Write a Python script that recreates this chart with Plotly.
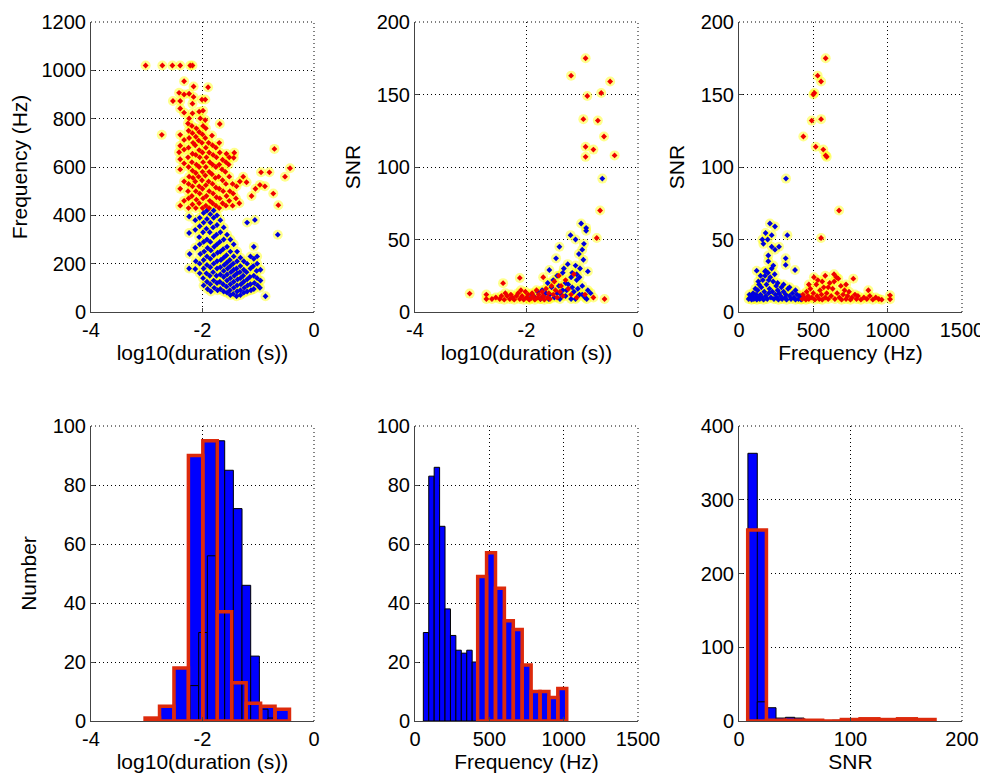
import plotly.graph_objects as go
from plotly.subplots import make_subplots

# ---- histogram data (bin start, bin width, counts) ----
dur_low_start, dur_low_width = -2.224, 0.1555
dur_low_counts = [12, 30, 56, 95, 85, 72, 46, 22, 4, 1]
dur_high_start, dur_high_width = -3.03, 0.259
dur_high_counts = [1, 5, 18, 90, 95, 37, 13, 6, 5, 4]

freq_low_start, freq_low_width = 56, 36.5
freq_low_counts = [30, 83, 86, 66, 38, 29, 24, 23, 24, 20]
freq_high_start, freq_high_width = 421.6, 59.9
freq_high_counts = [49, 57, 45, 34, 31, 19, 10, 10, 8, 11]

snr_low_start, snr_low_width = 8.0, 8.4
snr_low_counts = [363, 26, 18, 4, 5, 4, 2, 0, 0, 1]
snr_high_start, snr_high_width = 7.8, 16.8
snr_high_counts = [259, 1, 1, 1, 0, 2, 3, 2, 3, 2]

# ---- scatter data ----
# panel 1: log10(duration) vs frequency
p1_red = [(-3.02, 1020), (-2.72, 1020), (-2.54, 1020), (-2.40, 1020), (-2.22, 1020), (-2.18, 1020),
          (-2.33, 955), (-2.16, 933), (-1.90, 930), (-2.42, 907), (-2.33, 900), (-2.24, 903), (-2.16, 890),
          (-2.53, 873), (-2.40, 873), (-2.18, 862), (-2.01, 879), (-1.95, 879), (-2.40, 842), (-2.33, 825),
          (-2.18, 822), (-2.06, 829), (-1.99, 833), (-2.24, 801), (-2.04, 801), (-1.95, 794), (-1.69, 778),
          (-2.73, 733), (-2.40, 733), (-2.33, 712), (-2.40, 688), (-2.42, 661), (-2.40, 632), (-2.33, 672),
          (-2.40, 590), (-2.40, 510), (-2.40, 440), (-2.33, 540), (-2.33, 460), (-2.33, 615),
          (-2.25, 430), (-2.25, 470), (-2.26, 500), (-2.25, 530), (-2.24, 560), (-2.25, 600), (-2.26, 640),
          (-2.25, 680), (-2.24, 720), (-2.25, 750), (-2.26, 780),
          (-2.18, 445), (-2.19, 480), (-2.18, 520), (-2.17, 555), (-2.18, 585), (-2.19, 620), (-2.18, 655),
          (-2.17, 700), (-2.18, 740), (-2.19, 770),
          (-2.12, 430), (-2.11, 465), (-2.12, 500), (-2.13, 540), (-2.12, 575), (-2.11, 610), (-2.12, 650),
          (-2.13, 690), (-2.12, 725), (-2.11, 760),
          (-2.06, 450), (-2.05, 490), (-2.06, 520), (-2.07, 560), (-2.06, 600), (-2.05, 640), (-2.06, 670),
          (-2.07, 710), (-2.06, 745),
          (-2.00, 430), (-1.99, 470), (-2.00, 510), (-2.01, 545), (-2.00, 580), (-1.99, 620), (-2.00, 660),
          (-2.01, 700), (-2.00, 735), (-1.99, 770),
          (-1.94, 440), (-1.93, 480), (-1.94, 525), (-1.95, 565), (-1.94, 600), (-1.93, 640), (-1.94, 680),
          (-1.95, 720), (-1.94, 760),
          (-1.88, 430), (-1.87, 460), (-1.88, 500), (-1.89, 540), (-1.88, 580), (-1.87, 620), (-1.88, 660),
          (-1.89, 700),
          (-1.82, 450), (-1.81, 490), (-1.82, 530), (-1.83, 570), (-1.82, 610), (-1.81, 650), (-1.82, 690),
          (-1.83, 730),
          (-1.76, 440), (-1.75, 475), (-1.76, 515), (-1.77, 555), (-1.76, 600), (-1.75, 640), (-1.76, 680),
          (-1.70, 430), (-1.69, 470), (-1.70, 510), (-1.71, 560), (-1.70, 610), (-1.69, 660), (-1.70, 700),
          (-1.64, 450), (-1.63, 500), (-1.64, 545), (-1.65, 590), (-1.64, 630),
          (-1.58, 440), (-1.57, 480), (-1.58, 530), (-1.59, 580), (-1.58, 620), (-1.57, 655),
          (-1.52, 460), (-1.51, 500), (-1.52, 560), (-1.53, 610), (-1.52, 640),
          (-1.46, 440), (-1.45, 490), (-1.46, 530), (-1.44, 638), (-1.43, 659),
          (-1.40, 470), (-1.39, 520), (-1.34, 450), (-1.33, 540), (-1.27, 560),
          (-1.21, 537), (-1.12, 480), (-1.05, 510), (-0.97, 526), (-0.95, 578), (-0.88, 520), (-0.80, 578),
          (-0.73, 490), (-0.71, 675), (-0.64, 442), (-0.52, 560), (-0.43, 595)]

p1_blue = [(-2.24, 395), (-2.24, 327), (-2.23, 240), (-2.24, 180),
           (-2.13, 380), (-2.13, 340), (-2.13, 266), (-2.12, 210), (-2.13, 178),
           (-2.05, 390), (-2.05, 355), (-2.06, 310), (-2.05, 280), (-2.04, 240), (-2.05, 200), (-2.05, 160),
           (-1.98, 410), (-1.98, 370), (-1.99, 330), (-1.98, 290), (-1.97, 250), (-1.98, 215), (-1.98, 180),
           (-1.99, 140), (-1.98, 110),
           (-1.92, 420), (-1.92, 385), (-1.93, 345), (-1.92, 300), (-1.91, 265), (-1.92, 230), (-1.92, 195),
           (-1.93, 160), (-1.92, 125), (-1.91, 95),
           (-1.86, 405), (-1.86, 370), (-1.87, 330), (-1.86, 290), (-1.85, 255), (-1.86, 220), (-1.86, 185),
           (-1.87, 150), (-1.86, 115), (-1.85, 85),
           (-1.80, 420), (-1.80, 390), (-1.81, 350), (-1.80, 310), (-1.79, 270), (-1.80, 235), (-1.80, 200),
           (-1.81, 165), (-1.80, 130), (-1.79, 100),
           (-1.74, 400), (-1.74, 360), (-1.75, 320), (-1.74, 280), (-1.73, 245), (-1.74, 210), (-1.74, 180),
           (-1.75, 150), (-1.74, 120), (-1.73, 90),
           (-1.68, 380), (-1.68, 330), (-1.69, 290), (-1.68, 250), (-1.67, 215), (-1.68, 185), (-1.68, 155),
           (-1.69, 125), (-1.68, 95),
           (-1.62, 350), (-1.62, 300), (-1.63, 260), (-1.62, 225), (-1.61, 195), (-1.62, 170), (-1.62, 145),
           (-1.63, 115), (-1.62, 85),
           (-1.56, 320), (-1.56, 270), (-1.57, 235), (-1.56, 205), (-1.55, 180), (-1.56, 155), (-1.56, 130),
           (-1.57, 105), (-1.56, 80),
           (-1.50, 300), (-1.50, 250), (-1.51, 215), (-1.50, 190), (-1.49, 165), (-1.50, 140), (-1.50, 115),
           (-1.51, 90), (-1.50, 70),
           (-1.44, 280), (-1.44, 230), (-1.45, 200), (-1.44, 175), (-1.43, 150), (-1.44, 125), (-1.44, 100),
           (-1.45, 75),
           (-1.38, 250), (-1.38, 210), (-1.39, 180), (-1.38, 160), (-1.37, 135), (-1.38, 110), (-1.38, 85),
           (-1.39, 65),
           (-1.32, 225), (-1.32, 190), (-1.33, 165), (-1.32, 140), (-1.31, 115), (-1.32, 90), (-1.32, 70),
           (-1.26, 210), (-1.26, 175), (-1.27, 150), (-1.26, 125), (-1.25, 100), (-1.26, 80),
           (-1.20, 370), (-1.20, 200), (-1.21, 165), (-1.20, 135), (-1.19, 110), (-1.20, 85),
           (-1.06, 381), (-1.14, 230), (-1.14, 180), (-1.15, 145), (-1.14, 115), (-1.13, 90),
           (-1.08, 270), (-1.08, 220), (-1.09, 190), (-1.08, 150), (-1.07, 120), (-1.08, 95),
           (-1.02, 230), (-1.02, 200), (-1.03, 170), (-1.02, 140), (-1.01, 110),
           (-0.96, 175), (-0.96, 130), (-0.97, 100), (-0.87, 65), (-0.65, 320)]

# panel 2: log10(duration) vs SNR
p2_red = [(-0.94, 175), (-1.20, 163), (-0.50, 159), (-0.91, 149), (-0.66, 151), (-0.98, 133), (-0.72, 132),
          (-0.61, 121), (-0.94, 114), (-0.80, 112), (-0.94, 107), (-0.42, 108), (-0.68, 70), (-0.74, 51),
          (-3.02, 12.7), (-2.72, 12), (-2.72, 9), (-2.42, 19.9), (-2.12, 23.5), (-1.70, 24),
          (-2.62, 9), (-2.55, 10), (-2.48, 9), (-2.45, 11), (-2.40, 8.5), (-2.38, 13), (-2.35, 11),
          (-2.30, 9), (-2.28, 12), (-2.25, 10), (-2.22, 8.5), (-2.18, 11), (-2.15, 13), (-2.12, 9),
          (-2.10, 15), (-2.08, 11), (-2.05, 8.5), (-2.02, 14), (-2.00, 10), (-1.97, 12), (-1.95, 8.5),
          (-1.92, 9.5), (-1.90, 13), (-1.88, 11), (-1.85, 8.5), (-1.82, 15), (-1.80, 10), (-1.78, 12),
          (-1.75, 9), (-1.72, 14), (-1.70, 11), (-1.68, 8.5), (-1.65, 16), (-1.62, 10), (-1.60, 13),
          (-1.58, 9), (-1.55, 18), (-1.52, 12), (-1.50, 21), (-1.48, 15), (-1.45, 10), (-1.42, 25),
          (-1.40, 14), (-1.38, 18), (-1.35, 11), (-1.30, 22), (-1.25, 16), (-1.20, 12), (-1.15, 26),
          (-1.10, 10), (-0.95, 12), (-0.80, 10), (-0.60, 9)]

p2_blue = [(-0.64, 92), (-1.02, 61), (-0.93, 58), (-1.21, 53), (-1.12, 50), (-0.93, 56), (-0.97, 47),
           (-1.00, 43), (-1.41, 45), (-1.06, 40), (-1.26, 33), (-1.12, 32), (-1.47, 37), (-1.04, 30),
           (-1.33, 30), (-1.59, 29), (-0.98, 36), (-0.90, 28), (-1.18, 27),
           (-1.95, 9), (-1.90, 12), (-1.85, 10), (-1.80, 14), (-1.75, 9), (-1.70, 11), (-1.65, 13),
           (-1.60, 9), (-1.55, 17), (-1.50, 10), (-1.45, 13), (-1.40, 9), (-1.35, 15), (-1.30, 11),
           (-1.25, 19), (-1.20, 9), (-1.15, 14), (-1.10, 22), (-1.05, 12), (-1.00, 18), (-0.95, 10),
           (-0.90, 15), (-0.85, 13), (-1.45, 25), (-1.35, 27), (-1.20, 24), (-1.10, 26), (-1.05, 24),
           (-1.30, 20), (-1.62, 20), (-1.52, 22), (-1.42, 18), (-1.28, 15), (-1.18, 17), (-1.08, 16),
           (-1.00, 12), (-0.92, 9), (-1.12, 9), (-1.38, 12), (-1.58, 12), (-1.72, 15)]

# panel 3: frequency vs SNR
p3_red = [(583, 175), (529, 163), (552, 159), (500, 150), (507, 151), (489, 132), (552, 133), (433, 121),
          (516, 114), (567, 112), (583, 108), (590, 107), (673, 70), (552, 51),
          (425, 9), (430, 12), (440, 10), (450, 8.5), (455, 14), (465, 11), (470, 9), (480, 16), (490, 10),
          (500, 13), (504, 24), (510, 8.5), (520, 19), (525, 11), (530, 22), (540, 9), (545, 15), (555, 12),
          (560, 8.5), (570, 17), (580, 10), (590, 13), (600, 9), (610, 20), (620, 11), (630, 16), (639, 26),
          (645, 9), (655, 24), (660, 13), (668, 23), (675, 10), (685, 18), (690, 8.5), (700, 12), (710, 15),
          (720, 9), (730, 11), (740, 14), (750, 8.5), (760, 10), (769, 23), (780, 12), (790, 9), (800, 11),
          (820, 8.5), (840, 10), (860, 9), (870, 15), (880, 11), (900, 8.5), (920, 10), (940, 9), (960, 8.5),
          (1016, 11.5), (1016, 8.8), (470, 19), (560, 21), (600, 17), (720, 19), (580, 25), (640, 21)]

p3_blue = [(316, 92), (208, 61), (242, 59), (179, 54.5), (220, 53), (325, 53), (157, 50), (193, 50),
           (164, 47), (220, 45), (269, 45), (242, 43), (197, 39), (314, 37), (197, 35), (314, 32.5),
           (231, 32), (119, 28.5), (377, 29), (179, 28.5),
           (65, 9), (70, 12), (75, 10), (85, 8.5), (90, 11), (95, 13), (100, 9), (110, 10), (115, 12),
           (120, 8.5), (125, 15), (130, 10), (135, 19), (140, 9), (145, 12), (150, 17), (155, 10), (160, 22),
           (165, 8.5), (170, 14), (175, 25), (180, 11), (185, 19), (190, 9), (195, 27), (200, 13), (205, 16),
           (210, 24), (215, 10), (220, 30), (225, 14), (230, 21), (235, 9), (240, 26), (245, 12), (250, 18),
           (255, 10), (260, 15), (265, 8.5), (270, 13), (280, 11), (285, 17), (290, 9), (300, 14), (310, 10),
           (315, 12), (320, 8.5), (330, 16), (340, 11), (350, 9), (360, 13), (370, 10), (380, 8.5), (390, 12),
           (400, 9), (410, 11), (418, 8.5), (110, 16), (130, 21), (145, 25), (175, 28), (200, 22), (260, 20),
           (300, 19), (340, 17), (380, 15)]

FONT = "Liberation Sans, Arial, sans-serif"
BLUE_BAR = "#0000ff"
RED_EDGE = "#dd2a0c"
GRID_DASH = "1px,3px"

# the page body adds an 8 px offset, so the figure is a little smaller than the window
FIG_W, FIG_H, OFF = 980, 772, 8

fig = make_subplots(rows=2, cols=3)


def add_scatter(fig, pts_blue, pts_red, row, col):
    for pts in [pts_blue, pts_red]:
        xs = [p[0] for p in pts]
        ys = [p[1] for p in pts]
        # yellow glow behind each point
        fig.add_trace(go.Scatter(x=xs, y=ys, mode="markers", hoverinfo="skip",
                                 marker=dict(symbol="circle", size=10, color="rgba(255,255,0,0.45)", line=dict(width=0))),
                      row=row, col=col)
    for pts, colour in [(pts_blue, "#0000dd"), (pts_red, "#ee0000")]:
        xs = [p[0] for p in pts]
        ys = [p[1] for p in pts]
        fig.add_trace(go.Scatter(x=xs, y=ys, mode="markers",
                                 marker=dict(symbol="diamond", size=4.5, color=colour, line=dict(width=0))),
                      row=row, col=col)


def add_hist(fig, low, high, row, col):
    lo_start, lo_w, lo_counts = low
    hi_start, hi_w, hi_counts = high
    lo_x = [lo_start + lo_w * (i + 0.5) for i in range(len(lo_counts))]
    hi_x = [hi_start + hi_w * (i + 0.5) for i in range(len(hi_counts))]
    # blue fill of the second histogram
    fig.add_trace(go.Bar(x=hi_x, y=hi_counts, width=hi_w, marker=dict(color=BLUE_BAR, line=dict(width=0))),
                  row=row, col=col)
    fig.add_trace(go.Bar(x=lo_x, y=lo_counts, width=lo_w,
                         marker=dict(color=BLUE_BAR, line=dict(color="black", width=1))),
                  row=row, col=col)
    # red outlines on top
    fig.add_trace(go.Bar(x=hi_x, y=hi_counts, width=hi_w,
                         marker=dict(color="rgba(0,0,0,0)", line=dict(color=RED_EDGE, width=3.5))),
                  row=row, col=col)


add_scatter(fig, p1_blue, p1_red, 1, 1)
add_scatter(fig, p2_blue, p2_red, 1, 2)
add_scatter(fig, p3_blue, p3_red, 1, 3)
add_hist(fig, (dur_low_start, dur_low_width, dur_low_counts),
         (dur_high_start, dur_high_width, dur_high_counts), 2, 1)
add_hist(fig, (freq_low_start, freq_low_width, freq_low_counts),
         (freq_high_start, freq_high_width, freq_high_counts), 2, 2)
add_hist(fig, (snr_low_start, snr_low_width, snr_low_counts),
         (snr_high_start, snr_high_width, snr_high_counts), 2, 3)


def xd(a, b):
    return [(a - OFF) / FIG_W, (b - OFF) / FIG_W]


def yd(top, bottom):
    return [1 - (bottom - OFF) / FIG_H, 1 - (top - OFF) / FIG_H]


xdom = [xd(91, 314), xd(415, 638), xd(739, 962)]
# top row starts a few px lower so the top tick labels stay inside the page
ydom = [yd(22, 312), yd(426, 721)]

dur_ticks = ([-4, -2, 0], ["-4", "-2", "0"])
freq_ticks = ([0, 500, 1000, 1500], ["0", "500", "1000", "1500"])
snr_ticks = ([0, 100, 200], ["0", "100", "200"])

x_specs = [([-4, 0], dur_ticks, "log10(duration (s))"),
           ([-4, 0], dur_ticks, "log10(duration (s))"),
           ([0, 1500], freq_ticks, "Frequency (Hz)"),
           ([-4, 0], dur_ticks, "log10(duration (s))"),
           ([0, 1500], freq_ticks, "Frequency (Hz)"),
           ([0, 200], snr_ticks, "SNR")]
y_specs = [([0, 1200], 200, "Frequency (Hz)"),
           ([0, 200], 50, "SNR"),
           ([0, 200], 50, "SNR"),
           ([0, 100], 20, "Number"),
           ([0, 100], 20, ""),
           ([0, 400], 100, "")]

axis_common = dict(showgrid=True, gridcolor="black", griddash=GRID_DASH, gridwidth=1,
                   showline=True, linecolor="#444444", linewidth=1, zeroline=False,
                   ticks="inside", ticklen=4, tickcolor="#444444", automargin=False,
                   ticklabeloverflow="allow",
                   tickfont=dict(family=FONT, size=20, color="black"))

layout = {}
shapes = []
for i in range(6):
    r, c = divmod(i, 3)
    n = "" if i == 0 else str(i + 1)
    xr, (tv, tt), xt = x_specs[i]
    yr, dt, yt = y_specs[i]
    layout["xaxis" + n] = dict(domain=xdom[c], range=xr, tickvals=tv, ticktext=tt,
                               title=dict(text=xt, font=dict(family=FONT, size=21, color="black"), standoff=4),
                               **axis_common)
    layout["yaxis" + n] = dict(domain=ydom[r], range=yr, dtick=dt, tick0=0,
                               title=dict(text=yt, font=dict(family=FONT, size=21, color="black"), standoff=10),
                               **axis_common)
    # dotted box edges on top and right (MATLAB grid at the limits)
    xref, yref = "x" + n + " domain", "y" + n + " domain"
    shapes.append(dict(type="line", xref=xref, yref=yref, x0=0, x1=1, y0=1, y1=1,
                       line=dict(color="black", width=1, dash=GRID_DASH)))
    shapes.append(dict(type="line", xref=xref, yref=yref, x0=1, x1=1, y0=0, y1=1,
                       line=dict(color="black", width=1, dash=GRID_DASH)))

fig.update_layout(**layout)
fig.update_layout(
    width=FIG_W, height=FIG_H,
    showlegend=False,
    barmode="overlay",
    shapes=shapes,
    paper_bgcolor="white",
    plot_bgcolor="white",
    margin=dict(l=0, r=0, t=0, b=0),
    font=dict(family=FONT, color="black"),
)

fig.write_html("out.html")
